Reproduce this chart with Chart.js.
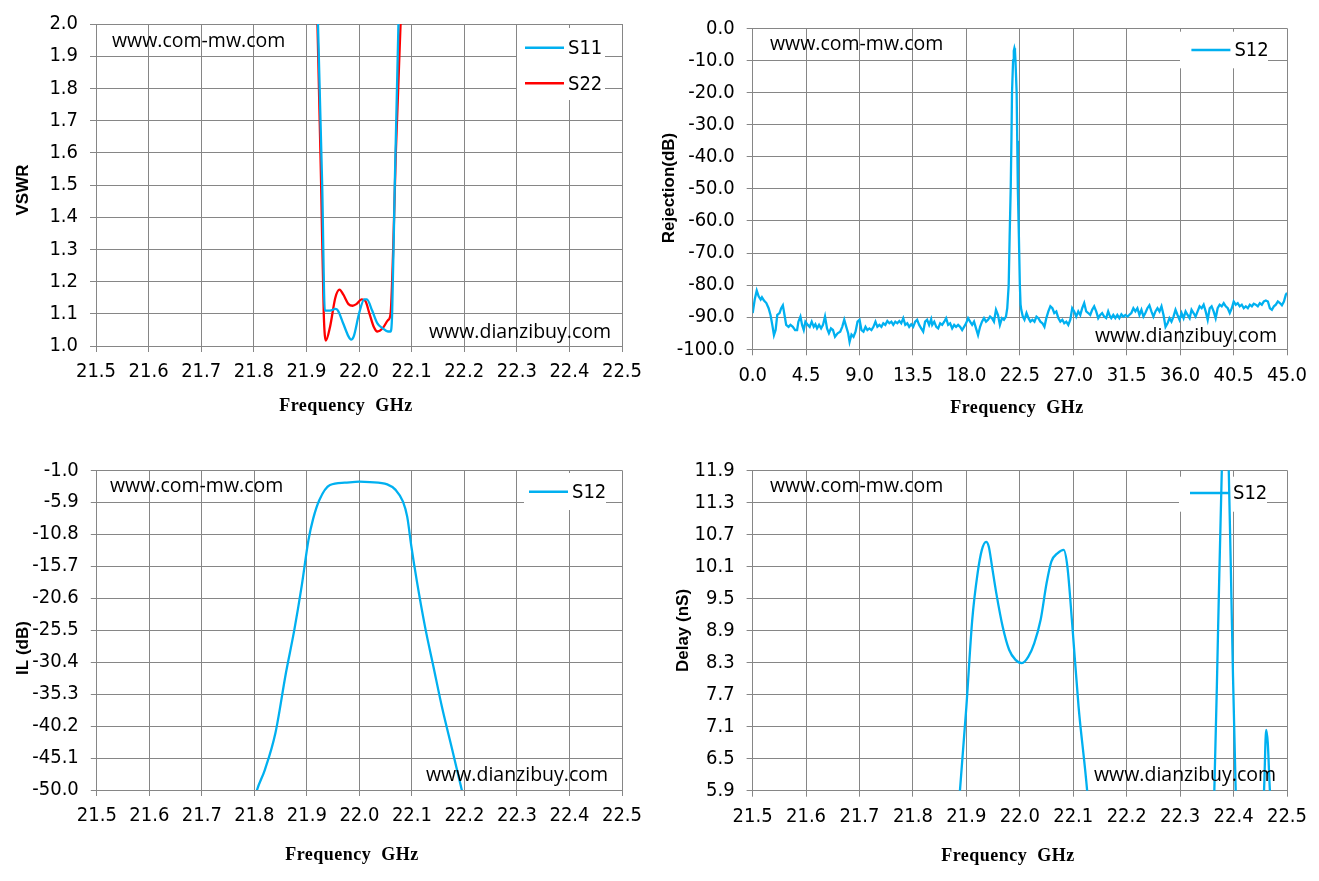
<!DOCTYPE html>
<html>
<head>
<meta charset="utf-8">
<script src="https://cdn.jsdelivr.net/npm/chart.js@4.4.1/dist/chart.umd.min.js"></script>
<style>
  body { margin: 0; background: #fff; }
  .box { position: absolute; }
</style>
</head>
<body>
<div class="box" style="left:0;top:0;width:660px;height:440px"><canvas id="vswrChart" width="660" height="440"></canvas></div>
<div class="box" style="left:660px;top:0;width:659px;height:440px"><canvas id="rejChart" width="659" height="440"></canvas></div>
<div class="box" style="left:0;top:440px;width:660px;height:441px"><canvas id="ilChart" width="660" height="441"></canvas></div>
<div class="box" style="left:660px;top:440px;width:659px;height:441px"><canvas id="delayChart" width="659" height="441"></canvas></div>
<script>
// ---- data ----
const freqTicks = [21.5, 21.6, 21.7, 21.8, 21.9, 22.0, 22.1, 22.2, 22.3, 22.4, 22.5]
const rejFreqTicks = [0, 4.5, 9.0, 13.5, 18.0, 22.5, 27.0, 31.5, 36.0, 40.5, 45.0]
const vswrTicks = [1.0, 1.1, 1.2, 1.3, 1.4, 1.5, 1.6, 1.7, 1.8, 1.9, 2.0]
const rejTicks = [0, -10, -20, -30, -40, -50, -60, -70, -80, -90, -100]
const ilTicks = [-1.0, -5.9, -10.8, -15.7, -20.6, -25.5, -30.4, -35.3, -40.2, -45.1, -50.0]
const delayTicks = [5.9, 6.5, 7.1, 7.7, 8.3, 8.9, 9.5, 10.1, 10.7, 11.3, 11.9]

const s11Freq = [21.915, 21.922, 21.93, 21.935, 21.945, 21.955, 21.96, 21.97, 21.98, 21.985, 21.99, 22.0, 22.01, 22.015, 22.025, 22.035, 22.045, 22.055, 22.06, 22.063, 22.068, 22.075, 22.08]
const s11Vswr = [2.3, 2.0, 1.5, 1.11, 1.11, 1.115, 1.11, 1.07, 1.03, 1.02, 1.03, 1.10, 1.145, 1.145, 1.11, 1.07, 1.055, 1.045, 1.045, 1.10, 1.5, 2.0, 2.3]
const s22Freq = [21.912, 21.921, 21.928, 21.933, 21.937, 21.945, 21.955, 21.963, 21.97, 21.98, 21.988, 21.995, 22.005, 22.012, 22.02, 22.028, 22.035, 22.045, 22.055, 22.06, 22.065, 22.07, 22.079, 22.085]
const s22Vswr = [2.4, 2.0, 1.5, 1.1, 1.017, 1.06, 1.15, 1.175, 1.16, 1.13, 1.125, 1.13, 1.145, 1.14, 1.1, 1.06, 1.045, 1.055, 1.08, 1.10, 1.3, 1.6, 2.0, 2.4]

const rejFreq = [
  0, 0.17, 0.34, 0.5, 0.67, 0.78, 0.95, 1.15, 1.34, 1.5, 1.65, 1.79, 1.93, 2.07, 2.26, 2.4, 2.54, 2.68, 2.82, 3.02,
  3.18, 3.38, 3.57, 3.74, 3.85, 4.02, 4.16, 4.3, 4.44, 4.64, 4.8, 4.97, 5.14, 5.28, 5.42, 5.59, 5.76, 5.92, 6.09, 6.26,
  6.42, 6.59, 6.76, 6.93, 7.15, 7.37, 7.54, 7.71, 7.88, 8.04, 8.16, 8.32, 8.49, 8.66, 8.83, 9.0, 9.16, 9.33, 9.5, 9.66,
  9.83, 10.0, 10.17, 10.34, 10.5, 10.67, 10.84, 11.0, 11.17, 11.34, 11.51, 11.68, 11.84, 12.01, 12.18, 12.35, 12.51, 12.68, 12.85, 13.02,
  13.18, 13.35, 13.52, 13.69, 13.85, 14.02, 14.19, 14.36, 14.52, 14.69, 14.86, 15.03, 15.12, 15.29, 15.46, 15.62, 15.79, 15.96, 16.13, 16.29,
  16.46, 16.63, 16.8, 16.97, 17.13, 17.3, 17.47, 17.64, 17.8, 17.97, 18.14, 18.31, 18.48, 18.64, 18.81, 18.98, 19.15, 19.31, 19.48, 19.65,
  19.82, 19.99, 20.15, 20.32, 20.49, 20.66, 20.82, 20.99, 21.16, 21.33, 21.44, 21.56, 21.64, 21.73, 21.79, 21.84, 21.93, 21.99, 22.04, 22.09,
  22.13, 22.23, 22.28, 22.33, 22.42, 22.5, 22.56, 22.62, 22.75, 22.89, 23.06, 23.23, 23.39, 23.56, 23.73, 23.9, 24.06, 24.23, 24.4, 24.57,
  24.73, 24.9, 25.07, 25.24, 25.4, 25.57, 25.74, 25.91, 26.08, 26.24, 26.41, 26.58, 26.75, 26.91, 27.08, 27.25, 27.42, 27.59, 27.75, 27.92,
  28.09, 28.26, 28.43, 28.59, 28.76, 28.93, 29.1, 29.27, 29.43, 29.6, 29.77, 29.94, 30.1, 30.2, 30.37, 30.54, 30.71, 30.88, 31.05, 31.22,
  31.39, 31.56, 31.72, 31.89, 32.06, 32.23, 32.4, 32.57, 32.74, 32.91, 33.07, 33.24, 33.41, 33.58, 33.75, 33.92, 34.09, 34.26, 34.43, 34.6,
  34.77, 34.94, 35.1, 35.27, 35.44, 35.61, 35.78, 35.95, 36.12, 36.29, 36.46, 36.63, 36.8, 36.96, 37.13, 37.3, 37.47, 37.64, 37.81, 37.98,
  38.15, 38.32, 38.49, 38.65, 38.82, 38.99, 39.16, 39.33, 39.5, 39.67, 39.84, 40.01, 40.18, 40.35, 40.51, 40.68, 40.85, 41.02, 41.19, 41.36,
  41.53, 41.7, 41.87, 42.04, 42.2, 42.37, 42.54, 42.71, 42.88, 43.05, 43.22, 43.39, 43.56, 43.73, 43.9, 44.06, 44.23, 44.4, 44.57, 44.74,
  44.9, 45.0
]
const rejS12 = [
  -88.7, -84.5, -81.7, -83.5, -84.5, -83.8, -84.8, -85.6, -87.2, -89.3, -92.4, -95.6, -94, -89.3, -88.7, -87.2, -86.3, -89.3, -92.4, -93,
  -92.4, -93, -94, -94, -91.4, -89.8, -92.4, -94, -91.4, -92.4, -93, -91.4, -93, -92.2, -93.5, -92.4, -93.5, -92.4, -89.8, -93.5,
  -95, -93.5, -94, -96.1, -95, -94.5, -93, -90.8, -93, -95, -97.7, -95.4, -96.1, -94.5, -91.4, -90.8, -94, -94.5, -93, -94,
  -93.5, -94, -93, -91.4, -93, -92.4, -93, -91.9, -92.4, -91.2, -91.9, -91.4, -92.4, -91.4, -91.9, -91.2, -91.9, -90.3, -92.4, -91.9,
  -93, -92.2, -93, -91.4, -90.8, -92.4, -93.5, -94.5, -91.4, -90.8, -92.4, -90.6, -92.4, -91.4, -93, -93.5, -91.9, -92.4, -91.4, -90.3,
  -92.4, -91.9, -93.5, -92.4, -93, -92.4, -93, -94, -93, -91.9, -90.3, -91.4, -92.4, -91.4, -93.5, -95.6, -93, -91.4, -90.3, -91.4,
  -90.8, -89.8, -90.3, -91.4, -87.7, -89.3, -92.4, -90.3, -90.8, -89.8, -87.2, -80, -65, -50, -35, -20, -10, -7, -6.2, -7,
  -10, -20, -35, -50, -65, -80, -86, -87.7, -89.8, -90.8, -88.7, -90.3, -91.4, -90.8, -91.4, -89.8, -90.3, -91.4, -91.9, -93,
  -90.3, -88.2, -86.6, -87.2, -88.7, -88.2, -90.3, -91.4, -90.8, -91.9, -91.4, -92.4, -90.8, -87.2, -88.2, -89.8, -88.2, -89.3, -87.2, -85.6,
  -88.2, -88.7, -89.3, -87.7, -86.6, -88.2, -90.3, -89.3, -88.7, -89.8, -90.3, -88.2, -89.8, -90.3, -89.3, -90.3, -89.3, -90.3, -89.1, -89.8,
  -89.3, -89.8, -89.3, -88.7, -87.2, -88.2, -87.2, -89.3, -87.7, -89.8, -88.7, -87.2, -86.3, -88.2, -89.8, -88.2, -87.2, -88.2, -86.6, -89.3,
  -93, -91.9, -90.3, -91.4, -89.8, -87.7, -89.3, -90.8, -88.7, -90.3, -88.2, -89.3, -90.3, -87.7, -88.7, -89.8, -88.2, -86.6, -87.2, -86.1,
  -88.2, -90.8, -87.2, -86.6, -88.2, -90.3, -87.2, -86.1, -86.6, -85.6, -86.6, -87.2, -88.7, -87.2, -85.1, -86.1, -85.6, -86.6, -86.1, -87.2,
  -86.6, -87.2, -86.1, -86.6, -85.8, -86.1, -86.6, -85.6, -86.1, -85.1, -84.8, -85.1, -87.2, -87.7, -86.6, -86.1, -85.1, -85.6, -86.3, -85.1,
  -83, -82.4
]

const ilFreq = [21.78, 21.805, 21.82, 21.84, 21.86, 21.876, 21.89, 21.903, 21.912, 21.924, 21.944, 21.972, 22.0, 22.02, 22.053, 22.069, 22.083, 22.091, 22.099, 22.109, 22.125, 22.141, 22.157, 22.177, 22.195, 22.21]
const ilS12 = [-58, -50, -46.9, -41.3, -32.1, -25.5, -18.8, -11.7, -8.4, -5.5, -3.25, -2.9, -2.75, -2.8, -3.15, -4.0, -5.8, -8.1, -12.7, -17.8, -25.0, -31.1, -37.2, -43.9, -50, -55]

const delayFreq = [21.86, 21.888, 21.9, 21.911, 21.921, 21.929, 21.937, 21.942, 21.948, 21.956, 21.968, 21.98, 21.992, 22.004, 22.016, 22.027, 22.039, 22.05, 22.059, 22.071, 22.082, 22.089, 22.098, 22.11, 22.126, 22.14, 22.2, 22.3, 22.35, 22.364, 22.371, 22.378, 22.384, 22.391, 22.397, 22.404, 22.42, 22.445, 22.457, 22.461, 22.464, 22.468, 22.48, 22.5]
const delayS12 = [3.0, 5.9, 7.47, 9.1, 9.97, 10.41, 10.56, 10.47, 10.1, 9.6, 8.97, 8.54, 8.35, 8.29, 8.41, 8.66, 9.1, 9.78, 10.19, 10.35, 10.41, 10.1, 9.03, 7.47, 5.9, 4.0, 2.5, 3.0, 4.5, 5.9, 8.9, 11.9, 13.5, 11.9, 9.0, 5.9, 4.0, 4.5, 5.9, 7.04, 6.8, 5.9, 4.5, 4.0]

// ---- look ----
const BLUE = '#00B0F0'
const RED = '#FF0000'
const GRID = '#868686'
const TICK_FONT = {family: "'Liberation Sans Narrow', 'DejaVu Sans Condensed', 'Liberation Sans', sans-serif", size: 20}
const XTITLE_FONT = "bold 18px 'Liberation Serif', 'DejaVu Serif', serif"
const YTITLE_FONT = "bold 17px 'Liberation Sans', Arial, sans-serif"
const MARK_FONT = "19.5px 'Open Sans', 'Liberation Sans', sans-serif"

const toPoints = (xs, ys) => xs.map((x, i) => ({x: x, y: ys[i]}))

// legend box, axis titles and watermark text drawn on the canvas
const overlay = {
    id: 'overlay',
    beforeDatasetsDraw(chart, args, opts) {
        const ctx = chart.ctx
        const b = opts.legend
        ctx.save()
        ctx.fillStyle = '#fff'
        ctx.fillRect(b.x, b.y, b.w, b.h)
        ctx.font = `${TICK_FONT.size}px ${TICK_FONT.family}`
        ctx.textBaseline = 'middle'
        chart.data.datasets.forEach((ds, i) => {
            const y = b.first + i * b.gap
            ctx.strokeStyle = ds.borderColor
            ctx.lineWidth = 2.5
            ctx.beginPath()
            ctx.moveTo(b.lx, y)
            ctx.lineTo(b.lx + 39, y)
            ctx.stroke()
            ctx.fillStyle = '#000'
            ctx.fillText(ds.label, b.lx + 43, y + 1)
        })
        ctx.restore()
    },
    afterDatasetsDraw(chart, args, opts) {
        const ctx = chart.ctx
        ctx.save()
        ctx.fillStyle = '#000'
        ctx.textBaseline = 'middle'
        ctx.font = MARK_FONT
        opts.marks.forEach(m => ctx.fillText(m.text, m.x, m.y))

        // x title
        ctx.font = XTITLE_FONT
        ctx.textAlign = 'center'
        ctx.letterSpacing = '0.5px'
        ctx.fillText(opts.xTitle.text, opts.xTitle.x, opts.xTitle.y)
        ctx.letterSpacing = '0px'

        // y title, rotated
        ctx.font = YTITLE_FONT
        ctx.translate(opts.yTitle.x, opts.yTitle.y)
        ctx.rotate(-Math.PI / 2)
        ctx.fillText(opts.yTitle.text, 0, 0)
        ctx.restore()
    }
}

const fixedTicks = arr => scale => { scale.ticks = arr.map(v => ({value: v})) }

const makeChart = (id, datasets, s) => {
    const lo = Math.min(...s.yTicks)
    const hi = Math.max(...s.yTicks)
    return new Chart(document.getElementById(id), {
        type: 'line',
        data: {datasets: datasets},
        plugins: [overlay],
        options: {
            responsive: false,
            animation: false,
            devicePixelRatio: 1,
            layout: {padding: {top: s.top, right: s.right, left: 0, bottom: 0}},
            elements: {point: {radius: 0}},
            plugins: {
                legend: {display: false},
                tooltip: {enabled: false},
                overlay: {legend: s.legend, marks: s.marks, xTitle: s.xTitle, yTitle: s.yTitle}
            },
            scales: {
                x: {
                    type: 'linear',
                    min: s.xTicks[0],
                    max: s.xTicks[s.xTicks.length - 1],
                    afterBuildTicks: fixedTicks(s.xTicks),
                    afterFit: sc => { sc.height = s.xh },
                    grid: {color: GRID, tickLength: 6, tickColor: GRID},
                    border: {color: GRID},
                    ticks: {font: TICK_FONT, color: '#000', padding: 8, maxRotation: 0, autoSkip: false,
                            callback: v => v.toFixed(1)}
                },
                y: {
                    min: lo,
                    max: hi,
                    afterBuildTicks: fixedTicks(s.yTicks),
                    afterFit: sc => { sc.width = s.yw },
                    grid: {color: GRID, tickLength: 6, tickColor: GRID},
                    border: {color: GRID},
                    ticks: {font: TICK_FONT, color: '#000', padding: 12, autoSkip: false,
                            callback: v => v.toFixed(1)}
                }
            }
        }
    })
}

const lineStyle = (label, color, pts, smooth) => ({
    label: label,
    data: pts,
    borderColor: color,
    backgroundColor: color,
    borderWidth: 2.3,
    fill: false,
    cubicInterpolationMode: smooth ? 'monotone' : 'default',
    tension: 0
})

makeChart('vswrChart', [
    lineStyle('S11', BLUE, toPoints(s11Freq, s11Vswr), true),
    lineStyle('S22', RED, toPoints(s22Freq, s22Vswr), true)
], {
    top: 24, right: 38, yw: 96, xh: 94,
    xTicks: freqTicks, yTicks: vswrTicks,
    xTitle: {text: 'Frequency  GHz', x: 346, y: 406},
    yTitle: {text: 'VSWR', x: 23, y: 190},
    legend: {x: 517, y: 28, w: 88, h: 72, lx: 525, first: 47.7, gap: 35.6},
    marks: [{text: 'www.com-mw.com', x: 112, y: 41.7}, {text: 'www.dianzibuy.com', x: 429, y: 332}]
})

makeChart('rejChart', [
    lineStyle('S12', BLUE, toPoints(rejFreq, rejS12), false)
], {
    top: 28.3, right: 32, yw: 92.7, xh: 90.7,
    xTicks: rejFreqTicks, yTicks: rejTicks,
    xTitle: {text: 'Frequency  GHz', x: 357, y: 408},
    yTitle: {text: 'Rejection(dB)', x: 9, y: 188},
    legend: {x: 520, y: 31.7, w: 88, h: 36.6, lx: 531.4, first: 50, gap: 0},
    marks: [{text: 'www.com-mw.com', x: 110, y: 44.3}, {text: 'www.dianzibuy.com', x: 435, y: 336}]
})

makeChart('ilChart', [
    lineStyle('S12', BLUE, toPoints(ilFreq, ilS12), true)
], {
    top: 30.3, right: 38, yw: 96.8, xh: 91,
    xTicks: freqTicks, yTicks: ilTicks,
    xTitle: {text: 'Frequency  GHz', x: 352, y: 415},
    yTitle: {text: 'IL (dB)', x: 23, y: 208},
    legend: {x: 524, y: 33, w: 82, h: 37, lx: 529, first: 51.7, gap: 0},
    marks: [{text: 'www.com-mw.com', x: 110, y: 46}, {text: 'www.dianzibuy.com', x: 426, y: 335}]
})

makeChart('delayChart', [
    lineStyle('S12', BLUE, toPoints(delayFreq, delayS12), true)
], {
    top: 30.3, right: 32, yw: 92.6, xh: 90.3,
    xTicks: freqTicks, yTicks: delayTicks,
    xTitle: {text: 'Frequency  GHz', x: 348, y: 416},
    yTitle: {text: 'Delay (nS)', x: 23, y: 190.5},
    legend: {x: 519, y: 36.7, w: 88, h: 35, lx: 530, first: 53, gap: 0},
    marks: [{text: 'www.com-mw.com', x: 110, y: 46.7}, {text: 'www.dianzibuy.com', x: 434, y: 335}]
})
</script>
</body>
</html>
